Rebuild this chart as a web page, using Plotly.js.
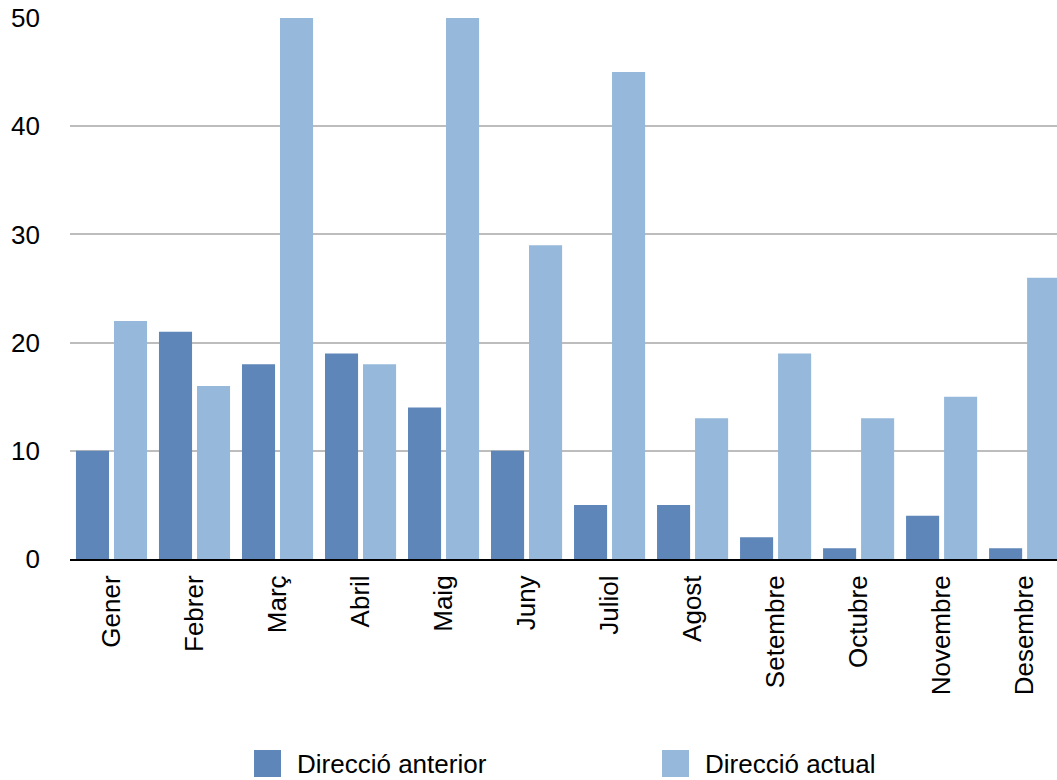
<!DOCTYPE html>
<html>
<head>
<meta charset="utf-8">
<script src="https://cdn.plot.ly/plotly-3.0.1.min.js"></script>
<style>
  html, body { margin: 0; padding: 0; background: #ffffff; }
  #chart { width: 1057px; height: 780px; }
</style>
</head>
<body>
<div id="chart"></div>
<script>
const months = ["Gener", "Febrer", "Març", "Abril", "Maig", "Juny", "Juliol", "Agost", "Setembre", "Octubre", "Novembre", "Desembre"];
const seriesNames = ["Direcció anterior", "Direcció actual"];
const anterior = [10, 21, 18, 19, 14, 10, 5, 5, 2, 1, 4, 1];
const actual = [22, 16, 50, 18, 50, 29, 45, 13, 19, 13, 15, 26];
const yTicks = [0, 10, 20, 30, 40, 50];

const colors = ["#5E86B9", "#96B8DA"];
const FONT = "Liberation Sans, Arial, Helvetica, sans-serif";

const traces = [anterior, actual].map((vals, i) => ({
  type: "bar",
  name: seriesNames[i],
  x: months,
  y: vals,
  marker: { color: colors[i], line: { width: 0 } },
  hoverinfo: "x+y+name"
}));

// legend drawn as shapes + annotations (paper coordinates)
const L = 70, W = 987, B = 559, H = 541;
const px = v => (v - L) / W;
const py = v => (B - v) / H;
const legendX = [254, 662];
const shapes = seriesNames.map((n, i) => ({
  type: "rect", xref: "paper", yref: "paper",
  x0: px(legendX[i]), x1: px(legendX[i] + 27),
  y0: py(777), y1: py(750),
  fillcolor: colors[i], line: { width: 0 }
}));
const annotations = seriesNames.map((n, i) => ({
  xref: "paper", yref: "paper",
  x: px(legendX[i] + 41), y: py(764),
  xanchor: "left", yanchor: "middle",
  text: n, showarrow: false,
  font: { family: FONT, size: 26, color: "#000000" }
}));

const layout = {
  width: 1057, height: 780,
  margin: { l: 70, r: 0, t: 18, b: 221, pad: 0 },
  paper_bgcolor: "#ffffff",
  plot_bgcolor: "#ffffff",
  showlegend: false,
  barmode: "group",
  bargap: 0.084,
  bargroupgap: 0.13,
  font: { family: FONT, size: 26, color: "#000000" },
  xaxis: {
    type: "category",
    range: [-0.5, 11.39],
    tickangle: -90,
    ticks: "",
    showgrid: false,
    showline: true,
    linecolor: "#000000",
    linewidth: 2,
    zeroline: false,
    ticklabelstandoff: 4,
    tickfont: { family: FONT, size: 26, color: "#000000" }
  },
  yaxis: {
    range: [0, 50],
    tickvals: yTicks,
    ticktext: yTicks.map(String),
    ticks: "",
    showgrid: true,
    gridcolor: "#BDBDBD",
    gridwidth: 2,
    zeroline: false,
    showline: false,
    ticklabelstandoff: 29,
    tickfont: { family: FONT, size: 26, color: "#000000" }
  },
  shapes: shapes,
  annotations: annotations
};

Plotly.newPlot("chart", traces, layout, { displayModeBar: false, staticPlot: false });
</script>
</body>
</html>
